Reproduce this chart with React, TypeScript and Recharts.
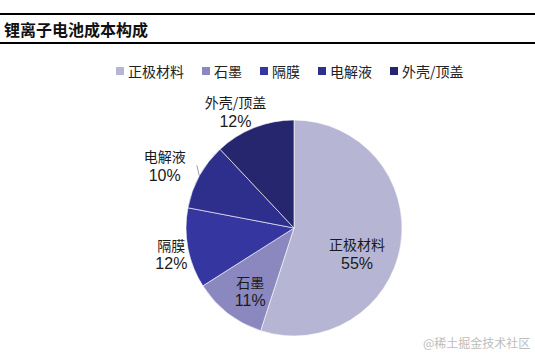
import { PieChart, Pie, Cell, Legend } from 'recharts'

const PARTS = ['正极材料', '石墨', '隔膜', '电解液', '外壳/顶盖']
const SHARES = [55, 11, 12, 10, 12]
const COLORS = ['#b6b6d4', '#8a88bf', '#3636a0', '#2e2e8c', '#26266e']

// where each label sits: radius factor + angle shift from the slice middle
const LABEL_PLACE = [
  { r: 0.63, shift: -13 },
  { r: 0.71, shift: 3 },
  { r: 1.16, shift: 1 },
  { r: 1.33, shift: 3 },
  { r: 1.21, shift: 5 },
]

const RADIAN = Math.PI / 180
const CJK = '"Noto Sans CJK SC", sans-serif'

const data = PARTS.map((name, i) => ({ name, value: SHARES[i] }))

function polar(cx: number, cy: number, r: number, angle: number) {
  return { x: cx + Math.cos(-angle * RADIAN) * r, y: cy + Math.sin(-angle * RADIAN) * r }
}

function renderLabel(props: any) {
  const { cx, cy, midAngle, outerRadius, index, percent, name } = props
  const place = LABEL_PLACE[index]
  const p = polar(cx, cy, outerRadius * place.r, midAngle + place.shift)
  const lead = index === 3
  const a = polar(cx, cy, outerRadius, midAngle)
  const b = polar(cx, cy, outerRadius * 1.07, midAngle - 4)
  return (
    <g>
      {lead && <line x1={a.x} y1={a.y} x2={b.x} y2={b.y} stroke="#888" strokeWidth={0.8} />}
      <text x={p.x} y={p.y - 9} textAnchor="middle" dominantBaseline="central" fontSize={14} fontFamily={CJK} fill="#1a1a1a">
        {name}
      </text>
      <text x={p.x} y={p.y + 10} textAnchor="middle" dominantBaseline="central" fontSize={16} fontFamily='"Liberation Sans", Arial, sans-serif' fill="#1a1a1a">
        {Math.round(percent * 100)}%
      </text>
    </g>
  )
}

function LegendBox({ payload }: any) {
  const items = [...(payload || [])].sort((a: any, b: any) => PARTS.indexOf(a.value) - PARTS.indexOf(b.value))
  return (
    <div style={{ display: 'flex', alignItems: 'center', fontFamily: CJK, fontSize: 14, color: '#222' }}>
      {items.map((item: any, i: number) => (
        <div key={i} style={{ display: 'flex', alignItems: 'center', marginRight: 18 }}>
          <span style={{ width: 8, height: 8, background: item.color, marginRight: 4, display: 'inline-block' }} />
          <span>{item.value}</span>
        </div>
      ))}
    </div>
  )
}

export default function App() {
  return (
    <div style={{ position: 'fixed', top: 0, left: 0, width: 535, height: 358, background: '#fff', overflow: 'hidden' }}>
      <div style={{ position: 'absolute', top: 13, left: 0, width: 535, height: 1.5, background: '#000' }} />
      <div style={{ position: 'absolute', top: 42, left: 0, width: 535, height: 1.5, background: '#000' }} />
      <div style={{ position: 'absolute', top: 18, left: 4, fontFamily: CJK, fontWeight: 700, fontSize: 16, lineHeight: '22px', color: '#111' }}>
        锂离子电池成本构成
      </div>
      <PieChart width={535} height={358} margin={{ top: 0, right: 0, bottom: 0, left: 0 }} style={{ position: 'absolute', top: 0, left: 0 }}>
        <Legend
          layout="horizontal"
          verticalAlign="middle"
          align="center"
          content={<LegendBox />}
          wrapperStyle={{ top: 61, left: 116, width: 420 }}
        />
        <Pie
          data={data}
          dataKey="value"
          nameKey="name"
          cx={294}
          cy={228}
          outerRadius={108}
          startAngle={90}
          endAngle={-270}
          stroke="#fff"
          strokeWidth={0.6}
          label={renderLabel}
          labelLine={false}
          isAnimationActive={false}
        >
          {data.map((d, i) => (
            <Cell key={d.name} fill={COLORS[i]} />
          ))}
        </Pie>
      </PieChart>
      <div style={{ position: 'absolute', top: 334, left: 423, fontFamily: CJK, fontSize: 12, color: '#bdbdbd' }}>
        @稀土掘金技术社区
      </div>
    </div>
  )
}
